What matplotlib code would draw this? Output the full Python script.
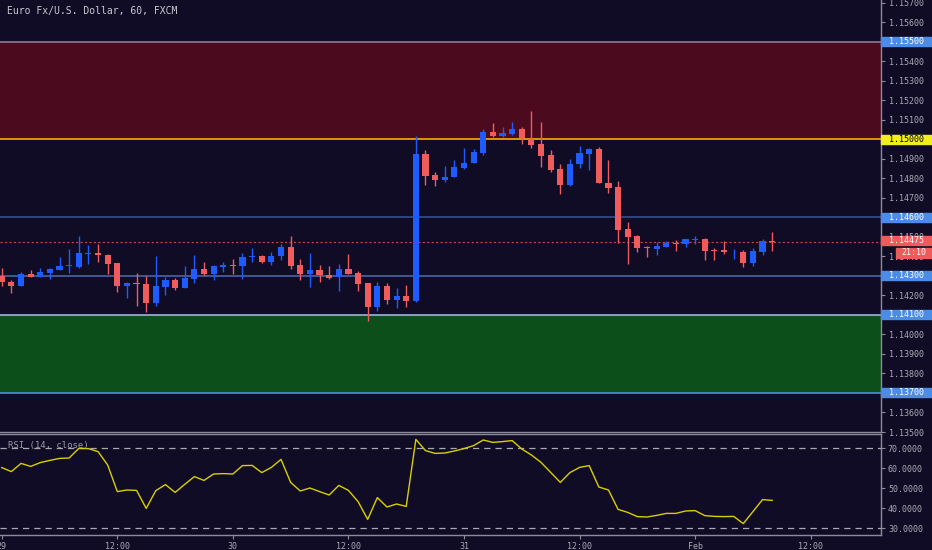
import matplotlib
matplotlib.use("Agg")
import matplotlib.pyplot as plt
import matplotlib.transforms as mtransforms
from matplotlib.patches import Rectangle
import numpy as np

title = "Euro Fx/U.S. Dollar, 60, FXCM"

# hourly candles, Jan 29 00:00 -> Feb 1 08:00
opens = [1.14300, 1.14271, 1.14250, 1.14310, 1.14297, 1.14315, 1.14332, 1.14350, 1.14348, 1.14414,
         1.14416, 1.14409, 1.14365, 1.14247, 1.14262, 1.14259, 1.14162, 1.14245, 1.14279, 1.14238,
         1.14286, 1.14334, 1.14310, 1.14348, 1.14358, 1.14350, 1.14396, 1.14404, 1.14370, 1.14401,
         1.14450, 1.14355, 1.14310, 1.14329, 1.14307, 1.14293, 1.14336, 1.14314, 1.14262, 1.14139,
         1.14250, 1.14175, 1.14196, 1.14172, 1.14924, 1.14818, 1.14794, 1.14806, 1.14854, 1.14878,
         1.14933, 1.15037, 1.15020, 1.15028, 1.15054, 1.15003, 1.14975, 1.14921, 1.14849, 1.14768,
         1.14872, 1.14926, 1.14953, 1.14775, 1.14755, 1.14539, 1.14505, 1.14447, 1.14440, 1.14450,
         1.14469, 1.14464, 1.14485, 1.14488, 1.14433, 1.14432, 1.14421, 1.14423, 1.14368, 1.14425,
         1.14481]
highs = [1.14343, 1.14279, 1.14319, 1.14331, 1.14343, 1.14339, 1.14399, 1.14440, 1.14505, 1.14457,
         1.14464, 1.14413, 1.14368, 1.14269, 1.14314, 1.14302, 1.14401, 1.14295, 1.14288, 1.14350,
         1.14406, 1.14372, 1.14356, 1.14373, 1.14387, 1.14416, 1.14445, 1.14409, 1.14423, 1.14464,
         1.14505, 1.14385, 1.14420, 1.14356, 1.14351, 1.14362, 1.14413, 1.14327, 1.14266, 1.14271,
         1.14262, 1.14237, 1.14254, 1.15018, 1.14946, 1.14835, 1.14864, 1.14895, 1.14958, 1.14950,
         1.15052, 1.15085, 1.15066, 1.15090, 1.15062, 1.15146, 1.15090, 1.14946, 1.14874, 1.14898,
         1.14965, 1.14958, 1.14960, 1.14895, 1.14787, 1.14579, 1.14510, 1.14456, 1.14476, 1.14479,
         1.14485, 1.14491, 1.14505, 1.14493, 1.14442, 1.14479, 1.14440, 1.14433, 1.14442, 1.14490,
         1.14527]
lows = [1.14249, 1.14211, 1.14250, 1.14293, 1.14293, 1.14286, 1.14332, 1.14317, 1.14343, 1.14360,
        1.14373, 1.14310, 1.14216, 1.14189, 1.14146, 1.14117, 1.14146, 1.14204, 1.14227, 1.14238,
        1.14262, 1.14303, 1.14278, 1.14322, 1.14310, 1.14286, 1.14370, 1.14365, 1.14358, 1.14382,
        1.14336, 1.14279, 1.14245, 1.14269, 1.14283, 1.14223, 1.14308, 1.14225, 1.14069, 1.14122,
        1.14158, 1.14138, 1.14143, 1.14165, 1.14767, 1.14762, 1.14784, 1.14806, 1.14849, 1.14878,
        1.14921, 1.15015, 1.15015, 1.15025, 1.14977, 1.14955, 1.14857, 1.14835, 1.14719, 1.14762,
        1.14856, 1.14844, 1.14775, 1.14724, 1.14471, 1.14362, 1.14425, 1.14399, 1.14408, 1.14447,
        1.14430, 1.14450, 1.14464, 1.14382, 1.14382, 1.14413, 1.14385, 1.14348, 1.14351, 1.14408,
        1.14430]
closes = [1.14269, 1.14250, 1.14309, 1.14297, 1.14319, 1.14334, 1.14350, 1.14352, 1.14418, 1.14418,
          1.14406, 1.14362, 1.14249, 1.14262, 1.14257, 1.14162, 1.14247, 1.14279, 1.14238, 1.14288,
          1.14334, 1.14310, 1.14350, 1.14356, 1.14351, 1.14397, 1.14404, 1.14370, 1.14403, 1.14450,
          1.14353, 1.14310, 1.14329, 1.14303, 1.14291, 1.14336, 1.14310, 1.14259, 1.14139, 1.14250,
          1.14175, 1.14196, 1.14172, 1.14924, 1.14815, 1.14794, 1.14808, 1.14857, 1.14881, 1.14938,
          1.15037, 1.15020, 1.15032, 1.15054, 1.15006, 1.14972, 1.14915, 1.14844, 1.14768, 1.14874,
          1.14931, 1.14950, 1.14775, 1.14753, 1.14536, 1.14502, 1.14444, 1.14442, 1.14456, 1.14469,
          1.14462, 1.14488, 1.14490, 1.14428, 1.14428, 1.14421, 1.14425, 1.14368, 1.14427, 1.14479,
          1.14475]
rsi = [60.2, 58.2, 62.3, 60.8, 62.7, 63.8, 64.8, 65.0, 69.8, 69.7,
       68.2, 61.5, 48.2, 49.0, 48.8, 39.8, 48.7, 51.7, 47.8, 51.8,
       55.7, 53.8, 57.0, 57.2, 57.0, 61.2, 61.3, 57.7, 60.3, 64.3,
       52.8, 48.5, 50.0, 48.2, 46.5, 51.3, 48.8, 43.2, 34.3, 45.2,
       40.5, 42.0, 40.8, 74.3, 68.7, 67.3, 67.5, 68.5, 69.7, 71.2,
       74.0, 72.8, 73.2, 73.7, 69.5, 66.5, 62.8, 57.8, 52.8, 57.7,
       60.3, 61.2, 50.5, 49.0, 39.3, 37.8, 35.7, 35.5, 36.3, 37.3,
       37.3, 38.5, 38.7, 36.2, 35.8, 35.7, 35.8, 32.2, 38.2, 44.2,
       43.8]

time_ticks = [0, 12, 24, 36, 48, 60, 72, 84]
time_labels = ["29", "12:00", "30", "12:00", "31", "12:00", "Feb", "12:00"]

resistance_zone = (1.150, 1.155)
support_zone = (1.137, 1.141)
# level, line colour, label box colour, label text colour
levels = [
    (1.155, "#8e7896", "#4b8ce6", "white"),
    (1.150, "#f5b000", "#f2ee1e", "black"),
    (1.146, "#34508c", "#4b8ce6", "white"),
    (1.143, "#4a64a2", "#4b8ce6", "white"),
    (1.141, "#9ab4d8", "#4b8ce6", "white"),
    (1.137, "#4d8fe0", "#4b8ce6", "white"),
]
last_price = 1.14475
countdown = "21:10"
rsi_bands = [70, 30]
rsi_ticks = [30, 40, 50, 60, 70]

bg = "#100c26"
up_col = "#1f5cff"
down_col = "#f05c5c"
axis_col = "#8c8c98"
text_col = "#aaaab4"

plt.rcParams["font.family"] = "DejaVu Sans Mono"

fig = plt.figure(figsize=(9.32, 5.5), dpi=100, facecolor=bg)
ax = fig.add_axes([0, 118 / 550, 881 / 932, 432 / 550], facecolor=bg)
ax_rsi = fig.add_axes([0, 15 / 550, 881 / 932, 101 / 550], facecolor=bg)

# zones and levels
ax.axhspan(*resistance_zone, color="#4c0a1e", lw=0, zorder=0)
ax.axhspan(*support_zone, color="#0c4f1b", lw=0, zorder=0)
for lvl, lc, _, _ in levels:
    ax.axhline(lvl, color=lc, lw=1.2, zorder=1)
ax.axhline(last_price, color="#c04848", lw=0.8, ls=(0, (2, 2)), zorder=1)

# candles
o, h, l, c = map(np.array, (opens, highs, lows, closes))
x = np.arange(len(o))
colors = np.where(c >= o, up_col, down_col)
ax.vlines(x, l, h, colors=colors, lw=1, zorder=3)
ax.bar(x, np.maximum(np.abs(c - o), 0.00004), bottom=np.minimum(o, c),
       width=0.64, color=colors, lw=0, zorder=4)

ax.set_xlim(-0.18, 91.3)
ax.set_ylim(1.135, 1.15715)
ax.yaxis.tick_right()
pticks = np.round(np.arange(1.135, 1.1575, 0.001), 3)
ax.set_yticks(pticks)
ax.set_yticklabels([f"{t:.5f}" for t in pticks])
ax.set_xticks([])
ax.tick_params(axis="y", labelsize=6, length=3, width=0.8, pad=3,
               color=axis_col, labelcolor=text_col)
for s in ["top", "left"]:
    ax.spines[s].set_visible(False)
for s in ["right", "bottom"]:
    ax.spines[s].set_color(axis_col)
    ax.spines[s].set_linewidth(1)

ax.text(7 / 881, 1 - 11 / 432, title, transform=ax.transAxes, va="center",
        ha="left", color="#c8c8d0", fontsize=7)

# price labels on the right scale
tr = mtransforms.blended_transform_factory(ax.transAxes, ax.transData)
px = (1.15715 - 1.135) / 432
box_w = 51 / 881
for lvl, _, bc, tc in levels:
    ax.add_patch(Rectangle((1.0, lvl - 4.5 * px), box_w, 9 * px, transform=tr,
                           color=bc, clip_on=False, zorder=6))
    ax.text(1 + 8 / 881, lvl, f"{lvl:.5f}", transform=tr, va="center", ha="left",
            color=tc, fontsize=6, zorder=7, clip_on=False)
ax.add_patch(Rectangle((1.0, last_price - 3.5 * px), box_w, 9 * px, transform=tr,
                       color="#f05a5a", clip_on=False, zorder=6))
ax.text(1 + 8 / 881, last_price + px, f"{last_price:.5f}", transform=tr, va="center",
        ha="left", color="white", fontsize=6, zorder=7, clip_on=False)
ax.add_patch(Rectangle((1 + 15 / 881, last_price - 16 * px), 36 / 881, 10 * px,
                       transform=tr, color="#f05a5a", clip_on=False, zorder=6))
ax.text(1 + 20 / 881, last_price - 11 * px, countdown, transform=tr, va="center",
        ha="left", color="white", fontsize=6, zorder=7, clip_on=False)

# RSI panel
ax_rsi.plot(x, rsi, color="#d8cf00", lw=1, zorder=3)
for b in rsi_bands:
    ax_rsi.axhline(b, color="#a8a8b4", lw=0.9, ls=(0, (5, 4)), zorder=2)
ax_rsi.set_xlim(-0.18, 91.3)
ax_rsi.set_ylim(26.5, 77)
ax_rsi.yaxis.tick_right()
ax_rsi.set_yticks(rsi_ticks)
ax_rsi.set_yticklabels([f"{t:.4f}" for t in rsi_ticks])
ax_rsi.set_xticks(time_ticks)
ax_rsi.set_xticklabels(time_labels)
ax_rsi.tick_params(labelsize=6, length=3, width=0.8, pad=2,
                   color=axis_col, labelcolor=text_col)
ax_rsi.spines["left"].set_visible(False)
for s in ["top", "right", "bottom"]:
    ax_rsi.spines[s].set_color(axis_col)
    ax_rsi.spines[s].set_linewidth(1)
ax_rsi.text(8 / 881, 0.89, "RSI (14, close)", transform=ax_rsi.transAxes,
            va="center", ha="left", color="#9a9aa8", fontsize=6.5)

fig.savefig("out.png", dpi=100, facecolor=bg)
